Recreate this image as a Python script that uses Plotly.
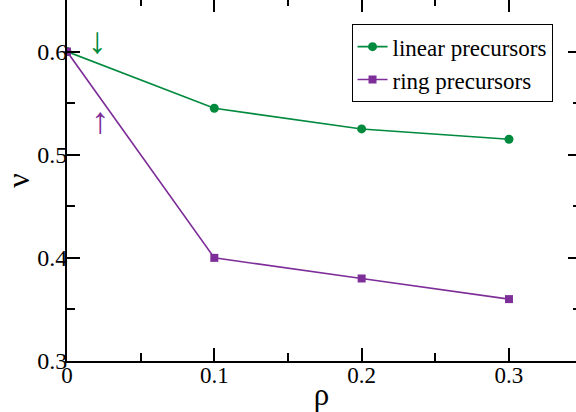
import plotly.graph_objects as go

rho = [0.0, 0.1, 0.2, 0.3]
nu_linear = [0.600, 0.545, 0.525, 0.515]
nu_ring = [0.600, 0.400, 0.380, 0.360]
x_ticks = [0, 0.1, 0.2, 0.3]
x_tick_labels = ["0", "0.1", "0.2", "0.3"]
y_ticks = [0.3, 0.4, 0.5, 0.6]
y_tick_labels = ["0.3", "0.4", "0.5", "0.6"]

GREEN = "#008a3e"
PURPLE = "#7d2e98"
FONT = "Liberation Serif"
XR = [0, 0.3455]
YR = [0.3, 0.65]

fig = go.Figure()
fig.add_trace(go.Scatter(x=rho, y=nu_linear, mode="lines+markers", name="linear precursors",
                         line=dict(color=GREEN, width=1.6),
                         marker=dict(symbol="circle", size=9, color=GREEN)))
fig.add_trace(go.Scatter(x=rho, y=nu_ring, mode="lines+markers", name="ring precursors",
                         line=dict(color=PURPLE, width=1.6),
                         marker=dict(symbol="square", size=8, color=PURPLE)))
fig.add_trace(go.Scatter(x=[], y=[], xaxis="x2", yaxis="y2", showlegend=False, hoverinfo="skip"))

fig.add_annotation(x=0.0206, y=0.611, text="↓", showarrow=False,
                   font=dict(family=FONT, size=37, color=GREEN))
fig.add_annotation(x=0.0229, y=0.533, text="↑", showarrow=False,
                   font=dict(family=FONT, size=37, color=PURPLE))

fig.update_layout(
    width=576, height=412,
    margin=dict(l=67, r=0, t=0, b=51, autoexpand=False),
    paper_bgcolor="white", plot_bgcolor="white",
    font=dict(family=FONT, size=22, color="black"),
    showlegend=True,
    legend=dict(x=0.559, y=0.933, xanchor="left", yanchor="top",
                bordercolor="black", borderwidth=1, bgcolor="white",
                font=dict(family=FONT, size=23), tracegroupgap=0,
                itemwidth=30),
    xaxis=dict(range=XR, tickmode="array", tickvals=x_ticks, ticktext=x_tick_labels,
               automargin=False, ticklabelposition="outside", ticklabelstandoff=-8,
               showline=True, linecolor="black", linewidth=2, showgrid=False, zeroline=False,
               ticks="inside", ticklen=13, tickwidth=1.5, tickcolor="black",
               minor=dict(dtick=0.05, ticks="inside", ticklen=8, tickwidth=1.5, tickcolor="black", showgrid=False),
               title=dict(text="ρ", font=dict(family=FONT, size=31), standoff=0),
               tickfont=dict(family=FONT, size=23)),
    yaxis=dict(range=YR, tickmode="array", tickvals=y_ticks, ticktext=y_tick_labels,
               automargin=False, ticklabelposition="outside", ticklabelstandoff=-7,
               showline=True, linecolor="black", linewidth=2, showgrid=False, zeroline=False,
               ticks="inside", ticklen=13, tickwidth=1.5, tickcolor="black",
               minor=dict(dtick=0.05, ticks="inside", ticklen=8, tickwidth=1.5, tickcolor="black", showgrid=False),
               title=dict(text="ν", font=dict(family=FONT, size=32), standoff=14),
               tickfont=dict(family=FONT, size=24)),
    xaxis2=dict(range=XR, overlaying="x", side="top", anchor="y2", showline=False,
                automargin=False,
                showticklabels=False, showgrid=False, zeroline=False,
                tickmode="array", tickvals=x_ticks,
                ticks="inside", ticklen=12, tickwidth=1.5, tickcolor="black",
                minor=dict(dtick=0.05, ticks="inside", ticklen=6, tickwidth=1.5, tickcolor="black", showgrid=False)),
    yaxis2=dict(range=YR, overlaying="y", side="right", anchor="x2", showline=False,
                automargin=False,
                showticklabels=False, showgrid=False, zeroline=False,
                tickmode="array", tickvals=y_ticks,
                ticks="inside", ticklen=8, tickwidth=1.5, tickcolor="black",
                minor=dict(dtick=0.05, ticks="inside", ticklen=3, tickwidth=1.5, tickcolor="black", showgrid=False)),
)

fig.write_html("out.html")
